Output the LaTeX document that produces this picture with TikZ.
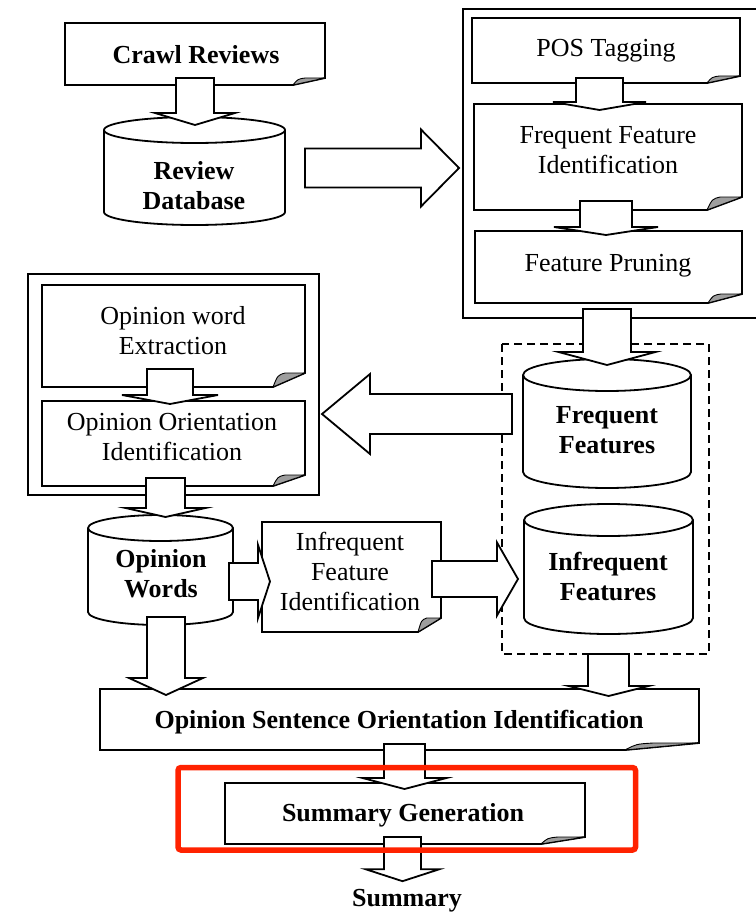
\documentclass[tikz,border=0pt]{standalone}
\usepackage{fontspec}
\setmainfont{Liberation Serif}
\usetikzlibrary{calc}

\definecolor{markred}{RGB}{255,34,0}

\tikzset{
  region/.style={inner sep=0pt, outer sep=0pt},
  docline/.style={draw=black, line width=1.8pt, fill=white, line join=miter},
  fold/.style={fill=black!38, draw=black, line width=0.9pt, line join=round},
  groupframe/.style={draw=black, line width=2.2pt},
  cylline/.style={draw=black, line width=1.8pt, fill=white},
  blockarrow/.style={draw=black, line width=1.8pt, fill=white, line join=miter},
  txt/.style={font=\fontsize{26}{30}\selectfont, align=center, inner sep=0pt},
  btxt/.style={font=\fontsize{26}{30}\selectfont\bfseries, align=center, inner sep=0pt},
}

% document box with a curled bottom-right corner: node, fold width, fold height
\newcommand\docshape[3]{%
  \draw[docline] (#1.north west) -- (#1.north east) -- ($(#1.south east)+(0,-#3)$)
    -- ($(#1.south east)+(-#2,0)$) -- (#1.south west) -- cycle;
  \filldraw[fold] ($(#1.south east)+(-#2,0)$)
    .. controls ($(#1.south east)+(-0.85*#2,-0.85*#3)$) .. ($(#1.south east)+(-0.62*#2,-1.0*#3)$)
    -- ($(#1.south east)+(0,-#3)$) -- cycle;}

% database drum filling the node's box: node, cap half-height
\newcommand\drum[2]{%
  \draw[cylline] let \p1=(#1.north west), \p2=(#1.south east), \n1={(\x2-\x1)/2} in
    (\x1,\y1-#2pt) -- (\x1,\y2+#2pt)
    arc[start angle=180, end angle=360, x radius=\n1, y radius=#2pt]
    -- (\x2,\y1-#2pt)
    arc[start angle=0, end angle=180, x radius=\n1, y radius=#2pt] -- cycle;
  \draw[cylline, fill=none] let \p1=(#1.north west), \p2=(#1.south east), \n1={(\x2-\x1)/2} in
    (\x1,\y1-#2pt) arc[start angle=180, end angle=360, x radius=\n1, y radius=#2pt];}

% block arrows: start, tip, shaft half-width, head half-width, head length
\newcommand\downblock[5]{%
  \draw[blockarrow] let \p1=#1, \p2=#2 in
    (\x2-#3pt,\y1) -- (\x2+#3pt,\y1) -- (\x2+#3pt,\y2+#5pt) -- (\x2+#4pt,\y2+#5pt)
    -- (\x2,\y2) -- (\x2-#4pt,\y2+#5pt) -- (\x2-#3pt,\y2+#5pt) -- cycle;}
\newcommand\rightblock[5]{%
  \draw[blockarrow] let \p1=#1, \p2=#2 in
    (\x1,\y2+#3pt) -- (\x2-#5pt,\y2+#3pt) -- (\x2-#5pt,\y2+#4pt) -- (\x2,\y2)
    -- (\x2-#5pt,\y2-#4pt) -- (\x2-#5pt,\y2-#3pt) -- (\x1,\y2-#3pt) -- cycle;}
\newcommand\leftblock[5]{%
  \draw[blockarrow] let \p1=#1, \p2=#2 in
    (\x1,\y2+#3pt) -- (\x2+#5pt,\y2+#3pt) -- (\x2+#5pt,\y2+#4pt) -- (\x2,\y2)
    -- (\x2+#5pt,\y2-#4pt) -- (\x2+#5pt,\y2-#3pt) -- (\x1,\y2-#3pt) -- cycle;}

\begin{document}
\begin{tikzpicture}[x=1pt, y=-1pt]
\useasboundingbox (0,0) rectangle (755,912);
\fill[white] (0,0) rectangle (755,912);

% ---- geometry of the nodes ----
\node[region, minimum width=300pt, minimum height=309pt] (grp)  at (613,163.5) {};
\node[region, minimum width=291pt, minimum height=221pt] (lf)   at (173.5,384.5) {};
\node[region, minimum width=207pt, minimum height=310pt] (dash) at (605.5,499) {};

\node[region, minimum width=260pt, minimum height=62pt]  (crawl) at (195,54) {};
\node[region, minimum width=268pt, minimum height=65pt]  (pos)   at (606,50.5) {};
\node[region, minimum width=268pt, minimum height=106pt] (ffi)   at (608,157) {};
\node[region, minimum width=267pt, minimum height=72pt]  (fp)    at (608.5,267) {};
\node[region, minimum width=263pt, minimum height=102pt] (owe)   at (173.5,336) {};
\node[region, minimum width=263pt, minimum height=85pt]  (ooi)   at (173.5,443.5) {};
\node[region, minimum width=179pt, minimum height=110pt] (ifi)   at (351.5,577) {};
\node[region, minimum width=599pt, minimum height=61pt]  (osoi)  at (399.5,719.5) {};
\node[region, minimum width=360pt, minimum height=61pt]  (sg)    at (405,813.5) {};

\node[region, minimum width=181pt, minimum height=108pt] (db)  at (194.5,171) {};
\node[region, minimum width=168pt, minimum height=129pt] (ff)  at (607,423.5) {};
\node[region, minimum width=169pt, minimum height=130pt] (inf) at (608.5,569) {};
\node[region, minimum width=145pt, minimum height=110pt] (ow)  at (160.5,570) {};

\node[region, minimum width=457.5pt, minimum height=82.5pt] (focus) at (406.75,808.75) {};

% ---- group frames ----
\draw[groupframe] (grp.north west) rectangle (grp.south east);
\draw[groupframe] (lf.north west) rectangle (lf.south east);
\draw[draw=black, line width=1.6pt, dash pattern=on 8pt off 5pt] (dash.north west) rectangle (dash.south east);

% ---- process boxes ----
\docshape{crawl}{32}{7}
\docshape{pos}{33}{7}
\docshape{ffi}{35}{13}
\docshape{fp}{34}{9}
\docshape{owe}{32}{14}
\docshape{ooi}{32}{11}
\docshape{ifi}{23}{14}
\docshape{osoi}{74}{7}
\docshape{sg}{44}{7}

% ---- data stores ----
\drum{db}{13}
\drum{ff}{16}
\drum{inf}{16}
\drum{ow}{13}

% ---- flow arrows ----
\downblock{($(crawl.south)+(0,-7)$)}{($(db.north)+(0.5,8)$)}{19}{40}{12}
\downblock{($(pos.south)+(-6.5,-5)$)}{($(ffi.north)+(-8.5,6)$)}{23.5}{46.5}{8}
\downblock{($(ffi.south)+(-2,-9)$)}{($(fp.north)+(-2.5,4)$)}{26}{52}{8}
\downblock{($(fp.south)+(-1.5,6)$)}{($(dash.north)+(1.5,21)$)}{24}{48.5}{13}
\downblock{($(owe.south)+(-3.5,-18)$)}{($(ooi.north)+(-3.5,3)$)}{23}{48}{9}
\downblock{($(ooi.south)+(-8,-8)$)}{($(ow.north)+(5,2)$)}{19.5}{40}{9}
\downblock{($(ow.south)+(5.5,-8)$)}{($(ow.south |- osoi.north)+(5.5,6)$)}{19}{37}{17}
\downblock{($(dash.south)+(3,0)$)}{($(dash.south |- osoi.north)+(3,7)$)}{20.5}{40}{10}
\downblock{($(osoi.south)+(5,-6)$)}{($(sg.north)+(-0.5,6)$)}{20.5}{42}{11}

\rightblock{($(db.east)+(20,-3)$)}{($(grp.west)+(-4,4.5)$)}{19.5}{38.5}{38}
\leftblock{($(ff.west)+(-11,-9.5)$)}{($(lf.east)+(3,29.5)$)}{20}{40}{48}
\rightblock{($(ow.east)+(-4,11.5)$)}{($(ifi.west)+(8,4.5)$)}{18.5}{36.5}{12}
\rightblock{($(ifi.east)+(-9,2)$)}{($(inf.west)+(-6,10)$)}{18}{36.5}{21}

% ---- labels ----
\node[btxt] (crawl-t) at (196,55) {Crawl Reviews};
\node[btxt] (db-t) at (194,186) {Review\\Database};
\node[txt] (pos-t) at (606,51) {POS Tagging};
\node[txt] (ffi-t) at (608,150) {Frequent Feature\\Identification};
\node[txt] (fp-t) at (608,265.5) {Feature Pruning};
\node[txt] (owe-t) at (173,331) {Opinion word\\Extraction};
\node[txt] (ooi-t) at (172,437) {Opinion Orientation\\Identification};
\node[btxt] (ow-t) at (161,574) {Opinion\\Words};
\node[txt] (ifi-t) at (350,571.5) {Infrequent\\Feature\\Identification};
\node[btxt] (ff-t) at (607,430.5) {Frequent\\Features};
\node[btxt] (inf-t) at (608,576.5) {Infrequent\\Features};
\node[btxt] (osoi-t) at (399,722.5) {Opinion Sentence Orientation Identification};
\node[btxt] (sg-t) at (403,815.5) {Summary Generation};
\node[btxt, anchor=base] (summ) at (407,906) {Summary};

\downblock{($(sg.south)+(-2.5,-7)$)}{($(summ.north)+(-4.5,-7.4)$)}{18.5}{37}{12}

% ---- highlight around the summary step ----
\draw[draw=markred, line width=5.5pt, rounded corners=3pt] (focus.north west) rectangle (focus.south east);
\end{tikzpicture}
\end{document}
